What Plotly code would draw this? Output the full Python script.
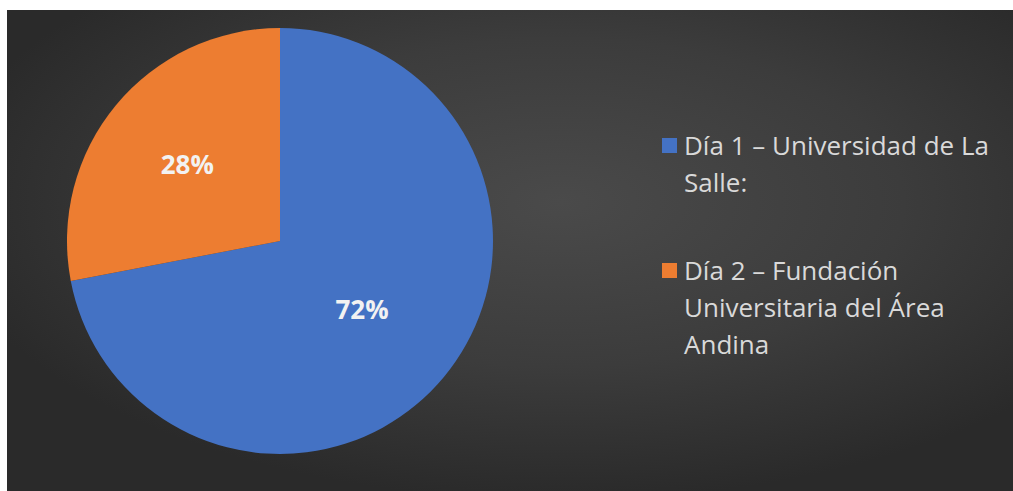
import base64
import plotly.graph_objects as go

# ---- data ----
labels = ["Día 1 – Universidad de La Salle:", "Día 2 – Fundación Universitaria del Área Andina"]
values = [72, 28]
colors = ["#4472C4", "#ED7D31"]
legend_lines = [["Día 1 – Universidad de La", "Salle:"],
                ["Día 2 – Fundación", "Universitaria del Área", "Andina"]]

W, H = 1013, 491

def px(x):
    return x / W

def py(y):
    return 1 - y / H

# background gradient as SVG data-URI
svg = '''<svg xmlns="http://www.w3.org/2000/svg" width="1006" height="481" viewBox="0 0 1006 481" preserveAspectRatio="none">
<defs><radialGradient id="g" cx="0.55" cy="0.40" r="0.62" gradientUnits="objectBoundingBox">
<stop offset="0" stop-color="#4a4a4a"/><stop offset="0.55" stop-color="#3c3c3c"/><stop offset="1" stop-color="#2a2a2a"/>
</radialGradient></defs>
<rect width="1006" height="481" fill="url(#g)"/></svg>'''
src = "data:image/svg+xml;base64," + base64.b64encode(svg.encode()).decode()

fig = go.Figure()
fig.add_trace(go.Pie(
    labels=labels, values=values, sort=False, direction="clockwise", rotation=0,
    marker=dict(colors=colors, line=dict(width=0)),
    textinfo="percent", textposition="inside", insidetextorientation="horizontal",
    textfont=dict(family="Open Sans", size=26, color="#f2f2f2", weight="bold"),
    domain=dict(x=[px(67), px(493)], y=[py(454), py(28)]),
    showlegend=False, hoverinfo="label+percent",
))

fig.add_layout_image(dict(source=src, xref="paper", yref="paper", x=px(7), y=py(10),
                          sizex=1 - px(7), sizey=py(10), sizing="stretch", layer="below"))

shapes = []
annotations = []
line_gap = 37
starts = [145, 270]
for i, lines in enumerate(legend_lines):
    y0 = starts[i]
    shapes.append(dict(type="rect", xref="paper", yref="paper",
                       x0=px(662), x1=px(677), y0=py(y0 + 8), y1=py(y0 - 7),
                       fillcolor=colors[i], line=dict(width=0)))
    for j, t in enumerate(lines):
        annotations.append(dict(text=t, xref="paper", yref="paper", x=px(682), y=py(y0 + j * line_gap),
                                xanchor="left", yanchor="middle", showarrow=False,
                                font=dict(family="Open Sans", size=26, color="#d9d9d9")))

fig.update_layout(width=W, height=H, margin=dict(l=0, r=0, t=0, b=0),
                  paper_bgcolor="white", plot_bgcolor="white",
                  shapes=shapes, annotations=annotations)

fig.write_html("out.html", config={"displayModeBar": False},
               post_script="document.body.style.margin='0';document.body.style.overflow='hidden';")
